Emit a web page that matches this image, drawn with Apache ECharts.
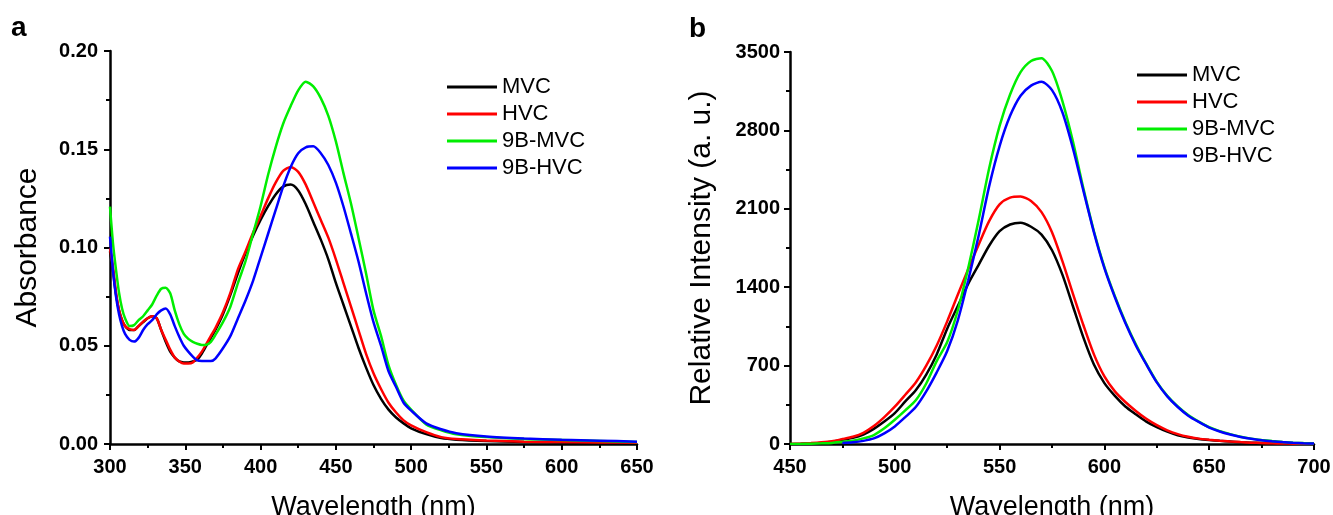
<!DOCTYPE html>
<html>
<head>
<meta charset="utf-8">
<script src="https://cdn.jsdelivr.net/npm/echarts@6/dist/echarts.min.js"></script>
<style>
html,body{margin:0;padding:0;background:#fff;}
#c{width:1333px;height:515px;}
</style>
</head>
<body>
<div id="c"></div>
<script>
// ---------- Panel a: absorbance ----------
const A_WL = [300,302,304,306,308,310,313,316,319,322,325,328,331,334,337,340,343,346,349,352,355,358,361,364,367,370,375,380,385,390,395,400,405,410,415,420,425,430,435,440,445,450,455,460,465,470,475,480,485,490,495,500,510,520,530,550,575,600,625,650];
const A_MVC = [0.098,0.088,0.076,0.068,0.063,0.060,0.058,0.058,0.060,0.062,0.064,0.065,0.064,0.058,0.052,0.047,0.044,0.042,0.0415,0.0415,0.042,0.043,0.046,0.050,0.054,0.058,0.066,0.076,0.087,0.097,0.106,0.114,0.121,0.127,0.131,0.132,0.129,0.122,0.113,0.104,0.094,0.082,0.071,0.060,0.049,0.039,0.030,0.023,0.0175,0.0135,0.0105,0.008,0.005,0.003,0.0022,0.0015,0.001,0.0008,0.0006,0.0005];
const A_HVC = [0.0996,0.090,0.077,0.068,0.063,0.060,0.0585,0.058,0.060,0.0623,0.064,0.065,0.064,0.058,0.053,0.048,0.044,0.042,0.041,0.041,0.0415,0.044,0.047,0.051,0.055,0.059,0.067,0.077,0.089,0.098,0.1075,0.116,0.125,0.133,0.139,0.141,0.1385,0.132,0.123,0.114,0.105,0.094,0.082,0.070,0.058,0.046,0.036,0.028,0.021,0.016,0.012,0.0095,0.006,0.0035,0.0025,0.0018,0.0012,0.001,0.0008,0.0006];
const A_9BMVC = [0.1208,0.102,0.0886,0.077,0.069,0.064,0.060,0.0605,0.063,0.065,0.068,0.071,0.0755,0.079,0.0795,0.0767,0.068,0.061,0.056,0.0535,0.052,0.051,0.0504,0.0505,0.052,0.0555,0.062,0.070,0.082,0.093,0.107,0.121,0.137,0.151,0.163,0.172,0.180,0.1844,0.182,0.176,0.167,0.154,0.138,0.1225,0.105,0.087,0.068,0.055,0.040,0.030,0.022,0.0175,0.010,0.007,0.005,0.0035,0.0025,0.002,0.0015,0.001];
const A_9BHVC = [0.1055,0.088,0.075,0.066,0.060,0.056,0.053,0.0521,0.054,0.058,0.061,0.063,0.066,0.068,0.069,0.066,0.060,0.0546,0.050,0.047,0.0445,0.0425,0.0422,0.0422,0.0422,0.0435,0.0487,0.055,0.064,0.073,0.083,0.095,0.107,0.119,0.131,0.141,0.148,0.151,0.1515,0.148,0.142,0.133,0.121,0.1072,0.093,0.077,0.062,0.050,0.037,0.029,0.021,0.017,0.0105,0.0075,0.0055,0.0038,0.0028,0.0022,0.0017,0.0012];

// ---------- Panel b: fluorescence ----------
const B_WL = [450,455,460,465,470,475,480,485,490,495,500,505,510,515,520,525,530,535,540,545,550,555,560,565,570,575,580,585,590,595,600,605,610,615,620,625,630,635,640,645,650,655,660,665,670,675,680,685,690,695,700];
const B_MVC = [0,2,5,10,20,38,55,85,135,200,275,380,480,620,800,1030,1230,1430,1600,1770,1900,1960,1976,1940,1870,1730,1510,1230,950,710,544,430,335,265,200,150,110,78,58,44,35,28,22,16,12,9,6,4,3,2,1];
const B_HVC = [0,3,8,15,25,44,65,100,160,240,333,440,550,700,880,1095,1330,1560,1780,1990,2140,2200,2210,2170,2070,1890,1630,1340,1060,800,603,470,375,295,225,168,122,88,64,48,38,30,23,17,12,9,6,4,3,2,1];
const B_9BMVC = [0,1,3,6,10,20,30,50,80,140,216,300,390,540,740,910,1190,1570,2000,2460,2840,3120,3320,3420,3445,3330,3060,2700,2280,1900,1580,1320,1090,890,715,555,430,335,258,200,150,115,88,65,48,36,26,18,12,8,5];
const B_9BHVC = [null,null,null,null,null,8,15,28,50,95,157,240,330,470,640,830,1100,1460,1860,2300,2660,2930,3110,3200,3235,3160,2960,2640,2260,1890,1570,1310,1080,880,710,550,425,330,253,197,147,112,85,63,46,34,25,17,11,7,4];

const NAMES = ['MVC','HVC','9B-MVC','9B-HVC'];
const COLORS = ['#000000','#ff0000','#00ee00','#0000ff'];
const A_X_TICKS = {min:300, max:650, interval:50};
const A_Y_TICKS = {min:0, max:0.20, interval:0.05};
const B_X_TICKS = {min:450, max:700, interval:50};
const B_Y_TICKS = {min:0, max:3500, interval:700};

const pair = (xs, ys) => xs.map((x, i) => [x, ys[i]]);

const tickFont = {fontFamily:'Liberation Sans', fontWeight:'bold', fontSize:20, color:'#000'};
const nameFontX = {fontFamily:'Liberation Sans', fontSize:27, color:'#000'};
const nameFontY = {fontFamily:'Liberation Sans', fontSize:30, color:'#000'};

function axisCommon(extra) {
  return Object.assign({
    type:'value',
    axisLine:{show:true, onZero:false, lineStyle:{color:'#000', width:2.5}},
    axisTick:{show:true, inside:false, length:6, lineStyle:{color:'#000', width:2}},
    minorTick:{show:true, splitNumber:2, length:4, lineStyle:{color:'#000', width:2}},
    splitLine:{show:false},
    minorSplitLine:{show:false},
    nameLocation:'middle'
  }, extra);
}

const chart = echarts.init(document.getElementById('c'), null, {renderer:'canvas'});

function series(name, data, xi, yi, color) {
  return {
    name, type:'line', xAxisIndex:xi, yAxisIndex:yi, data,
    showSymbol:false, symbol:'none', smooth:0.25,
    lineStyle:{color, width:2.5}, itemStyle:{color},
    emphasis:{disabled:true}, animation:false, connectNulls:false
  };
}

const legendBase = {
  orient:'vertical', icon:'rect', itemWidth:50, itemHeight:3, itemGap:5, padding:0,
  textStyle:{fontFamily:'Liberation Sans', fontSize:22, color:'#000', lineHeight:22},
  data:NAMES
};

chart.setOption({
  animation:false,
  backgroundColor:'#fff',
  title:[
    {text:'a', left:11, top:14, padding:0, textStyle:{fontFamily:'Liberation Sans', fontWeight:'bold', fontSize:28, color:'#000'}},
    {text:'b', left:689, top:15, padding:0, textStyle:{fontFamily:'Liberation Sans', fontWeight:'bold', fontSize:28, color:'#000'}}
  ],
  legend:[
    Object.assign({left:447, top:76}, legendBase),
    Object.assign({left:1137, top:64}, legendBase)
  ],
  grid:[
    {left:110, top:51, width:527, height:393, containLabel:false, outerBoundsMode:'none'},
    {left:790, top:52, width:524, height:392, containLabel:false, outerBoundsMode:'none'}
  ],
  xAxis:[
    axisCommon(Object.assign({gridIndex:0, name:'Wavelength (nm)', nameGap:50, nameTextStyle:nameFontX,
      axisLabel:Object.assign({margin:13}, tickFont)}, A_X_TICKS)),
    axisCommon(Object.assign({gridIndex:1, name:'Wavelength (nm)', nameGap:50, nameTextStyle:nameFontX,
      axisLabel:Object.assign({margin:13}, tickFont)}, B_X_TICKS))
  ],
  yAxis:[
    axisCommon(Object.assign({gridIndex:0, name:'Absorbance', nameGap:67, nameTextStyle:nameFontY,
      axisLabel:Object.assign({margin:12, formatter:v => v.toFixed(2)}, tickFont)}, A_Y_TICKS)),
    axisCommon(Object.assign({gridIndex:1, name:'Relative Intensity (a. u.)', nameGap:73, nameTextStyle:nameFontY,
      axisLabel:Object.assign({margin:10, formatter:v => String(v)}, tickFont)}, B_Y_TICKS))
  ],
  series:[
    series(NAMES[0], pair(A_WL, A_MVC), 0, 0, COLORS[0]),
    series(NAMES[1], pair(A_WL, A_HVC), 0, 0, COLORS[1]),
    series(NAMES[2], pair(A_WL, A_9BMVC), 0, 0, COLORS[2]),
    series(NAMES[3], pair(A_WL, A_9BHVC), 0, 0, COLORS[3]),
    series(NAMES[0], pair(B_WL, B_MVC), 1, 1, COLORS[0]),
    series(NAMES[1], pair(B_WL, B_HVC), 1, 1, COLORS[1]),
    series(NAMES[2], pair(B_WL, B_9BMVC), 1, 1, COLORS[2]),
    series(NAMES[3], pair(B_WL, B_9BHVC), 1, 1, COLORS[3])
  ]
});
</script>
</body>
</html>
